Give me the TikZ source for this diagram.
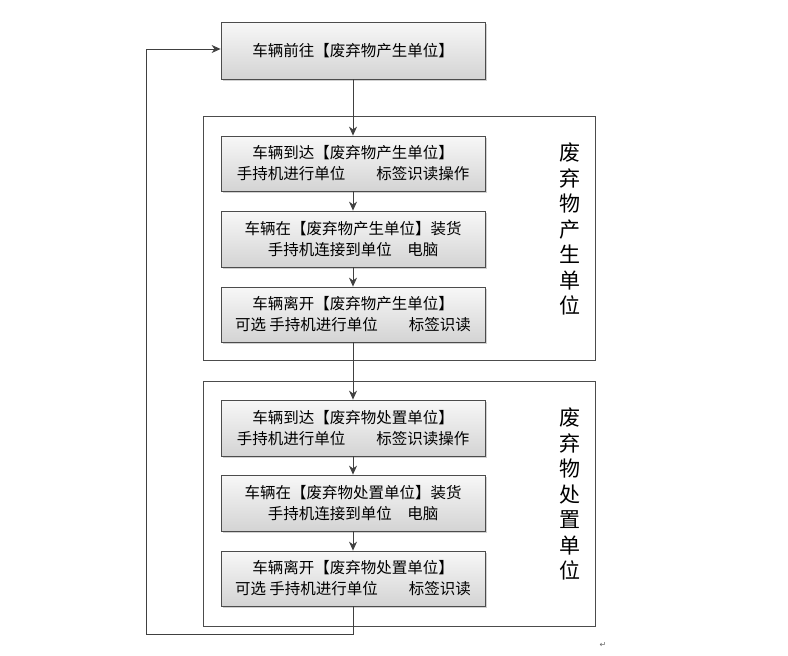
\documentclass[tikz,border=0pt]{standalone}
\usepackage{fontspec}
\setmainfont{Noto Sans CJK SC}
\newfontfamily\dejavu{DejaVu Sans}
\usetikzlibrary{arrows.meta,shadows}
\begin{document}
\begin{tikzpicture}[x=1pt,y=-1pt,
  stepbox/.style={draw=black!70,line width=0.8pt,top color=black!3,bottom color=black!17,
    minimum width=264pt,align=center,font=\fontsize{15.5}{21}\selectfont,
    drop shadow={shadow xshift=2pt,shadow yshift=-2pt,fill=black!30,opacity=0.6}},
  frame/.style={draw=black!70,line width=0.8pt},
  arr/.style={-{Stealth[length=9pt,width=8pt]},draw=black!75,line width=0.8pt},
  side/.style={font=\fontsize{21}{25.5}\selectfont,align=center}]
\useasboundingbox (0,0) rectangle (788,656);
\draw[frame] (203,116) rectangle (595,360);
\draw[frame] (203,381) rectangle (595,626);
\node[stepbox,minimum height=57pt] (a) at (353,50.5) {车辆前往【废弃物产生单位】};
\node[stepbox,minimum height=55pt] (b1) at (353,163.5) {车辆到达【废弃物产生单位】\\手持机进行单位\quad\quad 标签识读操作};
\node[stepbox,minimum height=56pt] (b2) at (353,239) {车辆在【废弃物产生单位】装货\\手持机连接到单位\quad 电脑};
\node[stepbox,minimum height=55pt] (b3) at (353,314.5) {车辆离开【废弃物产生单位】\\可选 手持机进行单位\quad\quad 标签识读};
\node[stepbox,minimum height=56pt] (c1) at (353,428) {车辆到达【废弃物处置单位】\\手持机进行单位\quad\quad 标签识读操作};
\node[stepbox,minimum height=56pt] (c2) at (353,503) {车辆在【废弃物处置单位】装货\\手持机连接到单位\quad 电脑};
\node[stepbox,minimum height=55pt] (c3) at (353,578.5) {车辆离开【废弃物处置单位】\\可选 手持机进行单位\quad\quad 标签识读};
\node[side] (s1) at (570,229) {废\\弃\\物\\产\\生\\单\\位};
\node[side] (s2) at (570,494) {废\\弃\\物\\处\\置\\单\\位};
\node[font=\dejavu\fontsize{8}{8}\selectfont,text=black!60] (pm) at (603,645) {↵};
\draw[arr] (a) -- (b1);
\draw[arr] (b1) -- (b2);
\draw[arr] (b2) -- (b3);
\draw[arr] (b3) -- (c1);
\draw[arr] (c1) -- (c2);
\draw[arr] (c2) -- (c3);
\coordinate (l1) at (353,634);
\coordinate (l2) at (146,634);
\coordinate (l3) at (146,49);
\draw[arr] (c3.south) -- (l1) -- (l2) -- (l3) -- (a.west|-l3);
\end{tikzpicture}
\end{document}
